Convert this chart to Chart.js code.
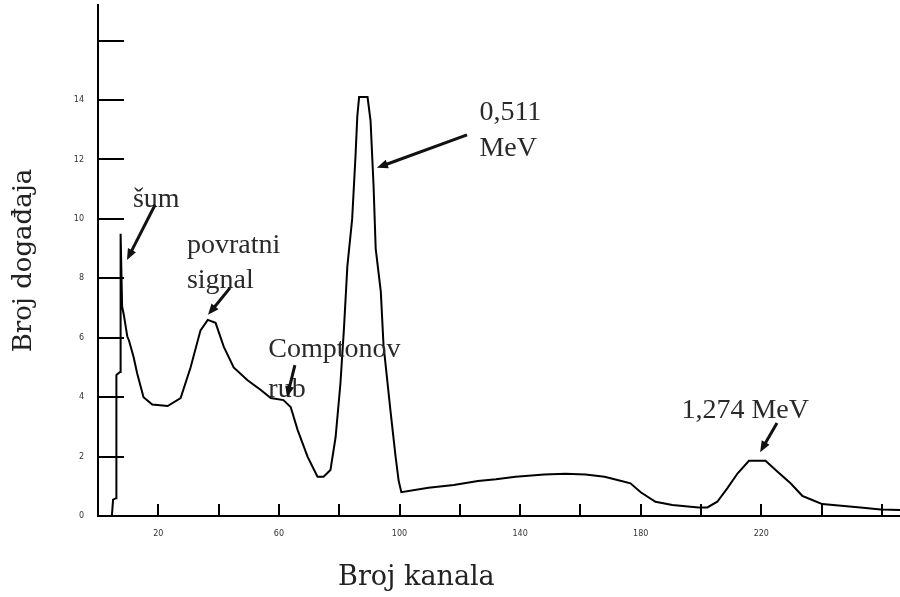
<!DOCTYPE html>
<html>
<head>
<meta charset="utf-8">
<script src="https://cdn.jsdelivr.net/npm/chart.js@4.4.1/dist/chart.umd.min.js"></script>
<style>
  html, body { margin: 0; padding: 0; background: #fff; }
</style>
</head>
<body>
<canvas id="spektar" width="900" height="597"></canvas>
<script>
// broj kanala (x) i broj dogadaja (y), ocitano sa slike
const kanal = [4.6, 5.0, 6.0, 6.1, 7.3, 7.5, 8.0, 8.6, 9.7, 10.3,
  11.8, 13.0, 15.1, 18.0, 23.1, 27.4, 30.7, 34.0, 36.4, 39.0,
  41.7, 45.0, 49.6, 53.9, 57.3, 61.5, 63.9, 66.2, 69.5, 72.8,
  74.8, 77.1, 78.8, 80.4, 81.6, 82.7, 84.3, 85.4, 86.0, 86.6,
  89.4, 90.4, 91.4, 92.1, 93.8, 94.7, 97.0, 98.7, 99.7, 100.6,
  109.6, 118.0, 126.0, 132.0, 138.5, 148.0, 155.0, 161.7, 168.0, 172.3,
  176.6, 180.0, 184.9, 190.5, 199.2, 202.1, 205.4, 208.7, 212.1, 215.9,
  221.4, 225.3, 229.7, 233.6, 236.9, 240.2, 252.9, 259.6, 266.0];
const dogadaji = [0, 0.55, 0.6, 4.75, 4.85, 9.5, 7.05, 6.75, 6.05, 5.9,
  5.35, 4.8, 4.0, 3.75, 3.7, 3.97, 5.0, 6.25, 6.6, 6.5,
  5.7, 5.0, 4.57, 4.25, 3.97, 3.9, 3.67, 2.9, 2.0, 1.32,
  1.32, 1.55, 2.65, 4.45, 6.35, 8.4, 10.0, 12.1, 13.45, 14.1,
  14.1, 13.3, 11.1, 9.0, 7.55, 5.75, 3.55, 2.0, 1.2, 0.8,
  0.95, 1.04, 1.18, 1.24, 1.32, 1.4, 1.42, 1.4, 1.32, 1.21,
  1.1, 0.8, 0.48, 0.37, 0.29, 0.29, 0.48, 0.93, 1.43, 1.86,
  1.86, 1.5, 1.1, 0.68, 0.54, 0.4, 0.29, 0.22, 0.2];

const xOznake = [20, 60, 100, 140, 180, 220];
const yOznake = [0, 2, 4, 6, 8, 10, 12, 14];
const xCrtice = [20, 40, 60, 80, 100, 120, 140, 160, 180, 200, 220, 240, 260];
const yCrtice = [2, 4, 6, 8, 10, 12, 14, 16];

// natpisi na grafu (u koordinatama podataka)
const natpisi = [
  { tekst: 'šum', x: 11.6, y: 10.4 },
  { tekst: 'povratni', x: 29.5, y: 8.86 },
  { tekst: 'signal', x: 29.5, y: 7.68 },
  { tekst: 'Comptonov', x: 56.5, y: 5.35 },
  { tekst: 'rub', x: 56.5, y: 4.0 },
  { tekst: '0,511', x: 126.5, y: 13.33 },
  { tekst: 'MeV', x: 126.5, y: 12.12 },
  { tekst: '1,274 MeV', x: 193.5, y: 3.3 }
];
const strelice = [
  { od: [18.9, 10.47], do: [9.6, 8.62] },
  { od: [43.8, 7.68], do: [36.5, 6.77] },
  { od: [65.3, 5.08], do: [62.7, 4.0] },
  { od: [122.4, 12.83], do: [92.5, 11.72] },
  { od: [225.2, 3.13], do: [219.6, 2.15] }
];

const tocke = kanal.map((k, i) => ({ x: k, y: dogadaji[i] }));

const dodaci = {
  id: 'dodaci',
  afterDraw(chart) {
    const ctx = chart.ctx;
    const sx = chart.scales.x, sy = chart.scales.y;
    const area = chart.chartArea;
    ctx.save();
    // crtice prema unutra
    ctx.strokeStyle = '#000';
    ctx.lineWidth = 2;
    ctx.beginPath();
    yCrtice.forEach(v => {
      const p = Math.round(sy.getPixelForValue(v));
      ctx.moveTo(area.left, p);
      ctx.lineTo(area.left + 26, p);
    });
    xCrtice.forEach(v => {
      const p = Math.round(sx.getPixelForValue(v));
      ctx.moveTo(p, area.bottom);
      ctx.lineTo(p, area.bottom - 12);
    });
    ctx.stroke();

    // natpisi
    ctx.fillStyle = '#2a2a2a';
    ctx.font = '28px "Liberation Serif", "Times New Roman", serif';
    ctx.textBaseline = 'alphabetic';
    ctx.textAlign = 'left';
    natpisi.forEach(n => {
      ctx.fillText(n.tekst, sx.getPixelForValue(n.x), sy.getPixelForValue(n.y));
    });

    // strelice
    ctx.strokeStyle = '#111';
    ctx.fillStyle = '#111';
    ctx.lineWidth = 3;
    strelice.forEach(s => {
      const x1 = sx.getPixelForValue(s.od[0]), y1 = sy.getPixelForValue(s.od[1]);
      const x2 = sx.getPixelForValue(s.do[0]), y2 = sy.getPixelForValue(s.do[1]);
      const a = Math.atan2(y2 - y1, x2 - x1);
      ctx.beginPath();
      ctx.moveTo(x1, y1);
      ctx.lineTo(x2 - 6 * Math.cos(a), y2 - 6 * Math.sin(a));
      ctx.stroke();
      ctx.beginPath();
      ctx.moveTo(x2, y2);
      ctx.lineTo(x2 - 11 * Math.cos(a) + 4.5 * Math.sin(a), y2 - 11 * Math.sin(a) - 4.5 * Math.cos(a));
      ctx.lineTo(x2 - 11 * Math.cos(a) - 4.5 * Math.sin(a), y2 - 11 * Math.sin(a) + 4.5 * Math.cos(a));
      ctx.closePath();
      ctx.fill();
    });

    // naslov x osi
    ctx.fillStyle = '#222';
    ctx.font = '27px "DejaVu Serif", serif';
    ctx.textAlign = 'center';
    ctx.textBaseline = 'middle';
    ctx.fillText('Broj kanala', area.left + (area.right - area.left) * 0.397, 578);
    ctx.restore();
  }
};

new Chart(document.getElementById('spektar'), {
  type: 'scatter',
  data: {
    datasets: [{
      data: tocke,
      showLine: true,
      borderColor: '#000',
      borderWidth: 2,
      pointRadius: 0,
      tension: 0,
      fill: false
    }]
  },
  options: {
    responsive: false,
    animation: false,
    devicePixelRatio: 1,
    layout: { padding: { top: 5, right: 0, left: 0, bottom: 0 } },
    plugins: { legend: { display: false }, tooltip: { enabled: false } },
    scales: {
      x: {
        type: 'linear',
        min: 0,
        max: 266,
        border: { display: true, color: '#000', width: 2 },
        grid: { display: false, drawTicks: false },
        ticks: {
          stepSize: 20,
          autoSkip: false,
          maxRotation: 0,
          padding: 13,
          color: '#333',
          font: { family: 'DejaVu Sans', size: 8 },
          callback: v => xOznake.includes(v) ? String(v) : ''
        },
        afterFit: s => { s.height = 81; s.paddingLeft = 0; s.paddingRight = 0; }
      },
      y: {
        type: 'linear',
        min: 0,
        max: 17.2,
        border: { display: true, color: '#000', width: 2 },
        grid: { display: false, drawTicks: false },
        ticks: {
          stepSize: 2,
          autoSkip: false,
          padding: 14,
          color: '#333',
          font: { family: 'DejaVu Sans', size: 8 },
          callback: v => yOznake.includes(v) ? String(v) : ''
        },
        title: {
          display: true,
          text: 'Broj događaja',
          color: '#222',
          font: { family: 'DejaVu Serif', size: 26, weight: 'normal' },
          padding: { top: 9, bottom: 0 }
        },
        afterFit: s => { s.width = 98; s.paddingTop = 0; s.paddingBottom = 0; }
      }
    }
  },
  plugins: [dodaci]
});
</script>
</body>
</html>
